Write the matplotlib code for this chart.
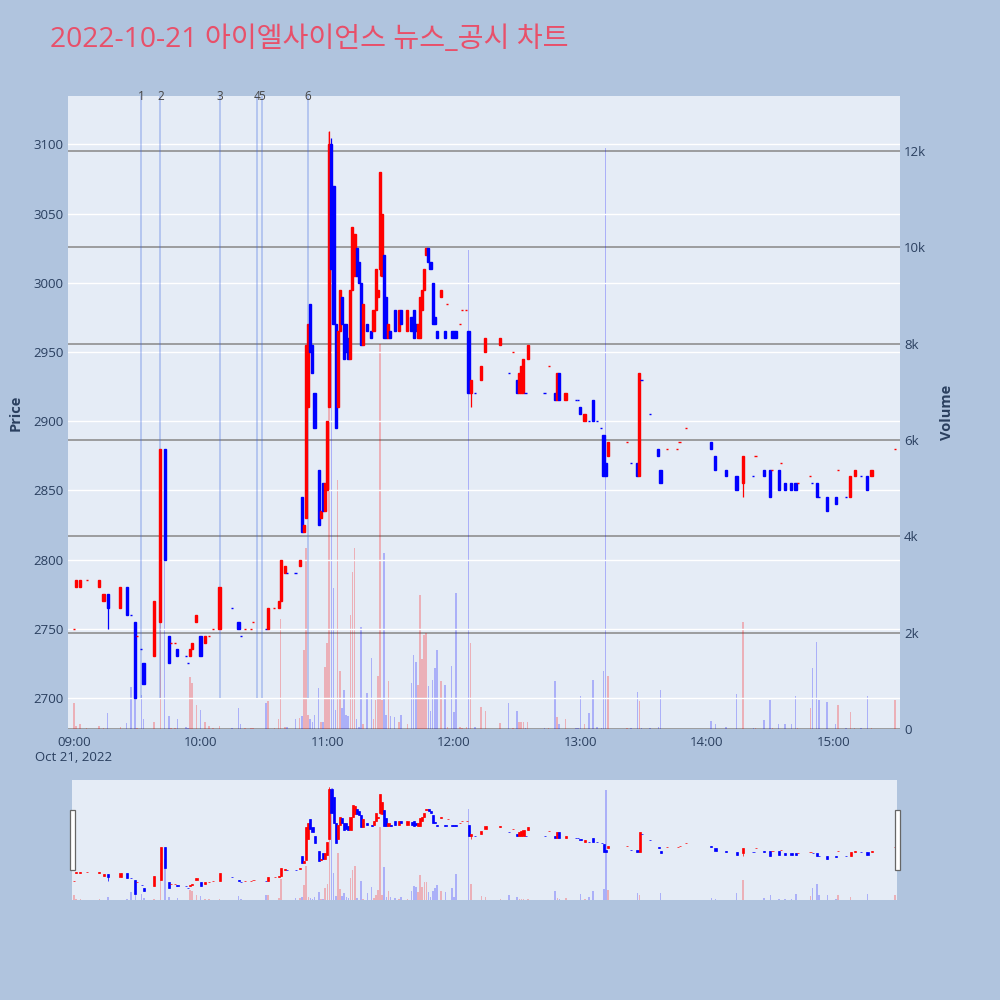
import matplotlib.pyplot as plt
from matplotlib.patches import Rectangle

plt.rcParams['font.family'] = ['Open Sans', 'Noto Sans CJK KR', 'DejaVu Sans']

# one-minute candles (only the minutes that traded)
times = ['09:00', '09:01', '09:03', '09:06', '09:12', '09:14', '09:16', '09:22', '09:25', '09:27',
         '09:29', '09:30', '09:32', '09:33', '09:38', '09:41', '09:43', '09:45', '09:46', '09:48',
         '09:49', '09:53', '09:54', '09:55', '09:56', '09:58', '10:00', '10:02', '10:04', '10:06',
         '10:09', '10:15', '10:18', '10:19', '10:21', '10:24', '10:25', '10:31', '10:32', '10:35',
         '10:37', '10:38', '10:40', '10:41', '10:45', '10:47', '10:48', '10:49', '10:50', '10:51',
         '10:52', '10:53', '10:54', '10:56', '10:57', '10:58', '10:59', '11:00', '11:01', '11:02',
         '11:03', '11:04', '11:05', '11:06', '11:07', '11:08', '11:09', '11:10', '11:11', '11:12',
         '11:13', '11:14', '11:15', '11:16', '11:17', '11:19', '11:21', '11:22', '11:23', '11:24',
         '11:25', '11:26', '11:27', '11:28', '11:29', '11:30', '11:32', '11:34', '11:35', '11:38',
         '11:40', '11:41', '11:42', '11:43', '11:44', '11:45', '11:46', '11:47', '11:48', '11:49',
         '11:50', '11:51', '11:52', '11:54', '11:56', '11:57', '11:59', '12:00', '12:01', '12:03',
         '12:04', '12:06', '12:07', '12:08', '12:10', '12:13', '12:15', '12:22', '12:26', '12:28',
         '12:30', '12:31', '12:32', '12:33', '12:34', '12:35', '12:43', '12:45', '12:48', '12:49',
         '12:50', '12:53', '12:58', '12:59', '13:00', '13:02', '13:04', '13:06', '13:08', '13:10',
         '13:11', '13:12', '13:13', '13:22', '13:24', '13:27', '13:28', '13:29', '13:33', '13:37',
         '13:38', '13:41', '13:46', '13:47', '13:50', '14:02', '14:04', '14:09', '14:14', '14:17',
         '14:22', '14:23', '14:27', '14:30', '14:31', '14:34', '14:35', '14:37', '14:40', '14:42',
         '14:43', '14:49', '14:50', '14:52', '14:53', '14:57', '15:01', '15:02', '15:06', '15:08',
         '15:10', '15:13', '15:16', '15:18', '15:29']
opens = [2750, 2780, 2780, 2785, 2780, 2770, 2775, 2765, 2780, 2760,
         2755, 2745, 2735, 2725, 2730, 2755, 2880, 2745, 2740, 2740,
         2735, 2730, 2725, 2730, 2735, 2755, 2745, 2740, 2745, 2750,
         2750, 2765, 2755, 2745, 2750, 2750, 2755, 2750, 2750, 2765,
         2765, 2770, 2790, 2790, 2790, 2795, 2845, 2820, 2830, 2910,
         2985, 2955, 2920, 2865, 2830, 2855, 2835, 2850, 2910, 3100,
         3070, 2970, 2910, 2965, 2990, 2970, 2970, 2960, 2945, 2995,
         3005, 3025, 3015, 3000, 2955, 2970, 2965, 2965, 2980, 2990,
         3010, 3005, 3020, 2990, 2960, 2965, 2980, 2965, 2980, 2965,
         2975, 2980, 2970, 2960, 2960, 2980, 2995, 3020, 3025, 3015,
         3000, 2975, 2965, 2990, 2965, 2985, 2965, 2965, 2965, 2970,
         2980, 2980, 2965, 2920, 2920, 2930, 2950, 2955, 2935, 2950,
         2930, 2920, 2920, 2920, 2920, 2945, 2920, 2940, 2920, 2915,
         2935, 2915, 2915, 2915, 2910, 2900, 2900, 2915, 2900, 2895,
         2890, 2870, 2875, 2885, 2870, 2870, 2860, 2930, 2905, 2880,
         2865, 2880, 2880, 2885, 2895, 2885, 2875, 2865, 2860, 2855,
         2860, 2875, 2865, 2865, 2865, 2865, 2870, 2855, 2855, 2855,
         2855, 2860, 2855, 2855, 2845, 2845, 2845, 2865, 2845, 2845,
         2860, 2860, 2860, 2860, 2880]
highs = [2750, 2785, 2785, 2785, 2785, 2775, 2775, 2780, 2780, 2760,
         2755, 2745, 2735, 2725, 2770, 2880, 2880, 2745, 2740, 2740,
         2735, 2730, 2725, 2735, 2740, 2760, 2745, 2745, 2745, 2750,
         2780, 2765, 2755, 2745, 2750, 2750, 2755, 2750, 2765, 2765,
         2770, 2800, 2795, 2790, 2790, 2800, 2845, 2825, 2955, 2970,
         2985, 2955, 2920, 2865, 2835, 2855, 2855, 2900, 3110, 3105,
         3070, 2970, 2965, 2995, 2990, 2970, 2970, 2960, 2995, 3040,
         3035, 3025, 3015, 3000, 2985, 2970, 2965, 2980, 3010, 2995,
         3080, 3050, 3020, 2990, 2970, 2965, 2980, 2980, 2980, 2980,
         2975, 2980, 2970, 2970, 2990, 2995, 3010, 3025, 3025, 3015,
         3000, 2975, 2965, 2995, 2965, 2985, 2965, 2965, 2965, 2970,
         2980, 2980, 2965, 2930, 2920, 2940, 2960, 2960, 2935, 2950,
         2930, 2935, 2940, 2945, 2920, 2955, 2920, 2940, 2920, 2935,
         2935, 2920, 2915, 2915, 2910, 2905, 2900, 2915, 2900, 2895,
         2890, 2870, 2885, 2885, 2870, 2870, 2935, 2930, 2905, 2880,
         2865, 2880, 2880, 2885, 2895, 2885, 2875, 2865, 2860, 2875,
         2860, 2875, 2865, 2865, 2865, 2865, 2870, 2855, 2855, 2855,
         2855, 2860, 2855, 2855, 2845, 2845, 2845, 2865, 2845, 2860,
         2865, 2860, 2860, 2865, 2880]
lows = [2750, 2780, 2780, 2785, 2780, 2770, 2750, 2765, 2760, 2760,
        2700, 2745, 2735, 2710, 2730, 2755, 2800, 2725, 2740, 2740,
        2730, 2730, 2725, 2730, 2735, 2755, 2730, 2740, 2745, 2750,
        2750, 2765, 2750, 2745, 2750, 2750, 2755, 2750, 2750, 2765,
        2765, 2770, 2790, 2790, 2790, 2795, 2820, 2820, 2830, 2910,
        2950, 2935, 2895, 2825, 2830, 2835, 2835, 2850, 2910, 3010,
        2970, 2895, 2910, 2965, 2970, 2945, 2950, 2945, 2945, 2995,
        3005, 3005, 3000, 2955, 2955, 2965, 2960, 2965, 2980, 2990,
        3005, 3005, 2960, 2960, 2960, 2960, 2965, 2965, 2970, 2965,
        2965, 2960, 2965, 2960, 2960, 2980, 2995, 3020, 3015, 3010,
        2970, 2970, 2960, 2990, 2960, 2985, 2960, 2960, 2960, 2970,
        2980, 2980, 2920, 2910, 2920, 2930, 2950, 2955, 2935, 2950,
        2920, 2920, 2920, 2920, 2920, 2945, 2920, 2940, 2915, 2915,
        2915, 2915, 2915, 2915, 2905, 2900, 2900, 2900, 2900, 2895,
        2860, 2860, 2875, 2885, 2870, 2860, 2860, 2930, 2905, 2875,
        2855, 2880, 2880, 2885, 2895, 2880, 2865, 2860, 2850, 2845,
        2860, 2875, 2860, 2845, 2865, 2850, 2870, 2850, 2850, 2850,
        2855, 2860, 2855, 2845, 2845, 2835, 2840, 2865, 2845, 2845,
        2860, 2860, 2850, 2860, 2880]
closes = [2750, 2785, 2785, 2785, 2785, 2775, 2765, 2780, 2760, 2760,
          2700, 2745, 2735, 2710, 2770, 2880, 2800, 2725, 2740, 2740,
          2730, 2730, 2725, 2735, 2740, 2760, 2730, 2745, 2745, 2750,
          2780, 2765, 2750, 2745, 2750, 2750, 2755, 2750, 2765, 2765,
          2770, 2800, 2795, 2790, 2790, 2800, 2820, 2825, 2955, 2970,
          2950, 2935, 2895, 2825, 2835, 2835, 2855, 2900, 3100, 3010,
          2970, 2895, 2965, 2995, 2970, 2945, 2950, 2945, 2995, 3040,
          3035, 3005, 3000, 2955, 2985, 2965, 2960, 2980, 3010, 2995,
          3080, 3050, 2960, 2960, 2970, 2960, 2965, 2980, 2970, 2980,
          2965, 2960, 2965, 2970, 2990, 2995, 3010, 3025, 3015, 3010,
          2970, 2970, 2960, 2995, 2960, 2985, 2960, 2960, 2960, 2970,
          2980, 2980, 2920, 2930, 2920, 2940, 2960, 2960, 2935, 2950,
          2920, 2935, 2940, 2945, 2920, 2955, 2920, 2940, 2915, 2935,
          2915, 2920, 2915, 2915, 2905, 2905, 2900, 2900, 2900, 2895,
          2860, 2860, 2885, 2885, 2870, 2860, 2935, 2930, 2905, 2875,
          2855, 2880, 2880, 2885, 2895, 2880, 2865, 2860, 2850, 2875,
          2860, 2875, 2860, 2845, 2865, 2850, 2870, 2850, 2850, 2850,
          2855, 2860, 2855, 2845, 2845, 2835, 2840, 2865, 2845, 2860,
          2865, 2860, 2850, 2865, 2880]
volumes = [530, 60, 100, 20, 60, 30, 325, 40, 130, 866,
           982, 20, 700, 200, 152, 4000, 4500, 280, 20, 20,
           200, 40, 30, 1070, 950, 500, 395, 150, 60, 30,
           60, 20, 430, 100, 20, 20, 20, 550, 590, 30,
           200, 2280, 40, 40, 200, 220, 280, 1640, 3750, 300,
           200, 150, 300, 845, 150, 150, 1294, 1780, 12400, 12240,
           2920, 400, 5170, 1210, 430, 810, 300, 270, 2370, 3265,
           3750, 200, 50, 2125, 100, 740, 1467, 200, 600, 1110,
           8000, 600, 3650, 300, 1000, 280, 250, 150, 300, 100,
           950, 1537, 1400, 920, 2780, 1447, 1950, 1987, 900, 380,
           1017, 1260, 1640, 1000, 913, 50, 1315, 360, 2830, 50,
           30, 50, 9950, 1790, 50, 450, 380, 120, 530, 30,
           380, 150, 150, 150, 20, 150, 20, 20, 1000, 250,
           100, 210, 20, 20, 680, 100, 330, 1010, 50, 30,
           1210, 12060, 1090, 20, 20, 775, 590, 20, 20, 50,
           810, 10, 10, 10, 10, 170, 100, 40, 727, 2230,
           20, 20, 190, 600, 20, 100, 10, 100, 100, 690,
           20, 430, 1260, 1800, 600, 555, 100, 500, 20, 345,
           20, 20, 690, 20, 600]

news_times = ['09:32', '09:41', '10:09', '10:27', '10:29', '10:51']
news_labels = ['1', '2', '3', '4', '5', '6']

hour_ticks = ['09:00', '10:00', '11:00', '12:00', '13:00', '14:00', '15:00']
price_ticks = [2700, 2750, 2800, 2850, 2900, 2950, 3000, 3050, 3100]
vol_ticks = [0, 2000, 4000, 6000, 8000, 10000, 12000]
vol_labels = ['0', '2k', '4k', '6k', '8k', '10k', '12k']


def to_min(t):
    h, m = t.split(':')
    return (int(h) - 9) * 60 + int(m)


x = [to_min(t) for t in times]

# red = up, blue = down; flat minutes follow the move from the last close
cols = []
prev_close, prev_col = None, 'red'
for o, c in zip(opens, closes):
    if c > o:
        col = 'red'
    elif c < o:
        col = 'blue'
    elif prev_close is None or c > prev_close:
        col = 'red'
    elif c < prev_close:
        col = 'blue'
    else:
        col = prev_col
    cols.append(col)
    prev_close, prev_col = c, col

vcols = [(1, 0, 0, 0.25) if c == 'red' else (0, 0, 1, 0.25) for c in cols]

PLOT_BG = '#E5ECF6'
TXT = '#2a3f5f'
P_LIM = (2677.5, 3135)
V_LIM = (0, 13140)

fig = plt.figure(figsize=(10, 10), dpi=100, facecolor='#B0C4DE')


def panel(rect, xlim, body_lw, wick_lw, main=True):
    ax = fig.add_axes(rect)
    axv = ax.twinx()
    ax.set_zorder(axv.get_zorder() + 1)
    ax.patch.set_visible(False)
    axv.patch.set_visible(True)
    axv.set_facecolor(PLOT_BG)

    axv.bar(x, volumes, width=0.75, color=vcols, linewidth=0)
    axv.set_ylim(*V_LIM)

    ax.vlines(x, lows, highs, colors=cols, linewidth=wick_lw, zorder=3)
    bottoms = [min(o, c) for o, c in zip(opens, closes)]
    heights = [abs(c - o) for o, c in zip(opens, closes)]
    ax.bar(x, heights, bottom=bottoms, width=1.0, color=cols, edgecolor=cols,
           linewidth=body_lw, zorder=4)
    ax.set_ylim(*P_LIM)
    ax.set_xlim(*xlim)

    for a in (ax, axv):
        for s in a.spines.values():
            s.set_visible(False)
        a.tick_params(length=0, colors=TXT, labelsize=9.5)
    if not main:
        ax.set_xticks([])
        ax.set_yticks([])
        axv.set_yticks([])
    return ax, axv


# main chart
ax, axv = panel([0.068, 0.271, 0.832, 0.633], (-2.8, 391.5), 1.0, 0.9)
ax.set_yticks(price_ticks)
ax.grid(axis='y', color='white', linewidth=1.0)
ax.set_axisbelow(True)
ax.set_xticks([to_min(t) for t in hour_ticks])
ax.set_xticklabels(hour_ticks)
ax.tick_params(axis='x', pad=5)
ax.tick_params(axis='y', pad=3)
axv.set_yticks(vol_ticks)
axv.set_yticklabels(vol_labels)
axv.grid(axis='y', color='#8f8f8f', linewidth=1.2)
axv.set_axisbelow(True)
axv.tick_params(axis='y', pad=3)
ax.text(0, -0.035, 'Oct 21, 2022', transform=ax.get_xaxis_transform(),
        ha='center', va='top', fontsize=9.5, color=TXT)
ax.set_ylabel('Price', fontsize=10.5, fontweight='bold', color=TXT, labelpad=8)
axv.set_ylabel('Volume', fontsize=10.5, fontweight='bold', color=TXT, labelpad=10)

# news / disclosure markers
news_x = [to_min(t) for t in news_times]
ax.vlines(news_x, 2700, P_LIM[1], colors='royalblue', alpha=0.35, linewidth=1.2, zorder=2)
for nx, lab in zip(news_x, news_labels):
    ax.text(nx, P_LIM[1], lab, ha='center', va='center', fontsize=8.5, color='#444444', zorder=6)

# range slider
rs, rsv = panel([0.072, 0.100, 0.825, 0.120], (-1, 390), 0.5, 0.5, main=False)
for hx in (0.0695, 0.8945):
    fig.patches.append(Rectangle((hx, 0.130), 0.005, 0.060, transform=fig.transFigure,
                                 facecolor='white', edgecolor='#666666', linewidth=0.9))

fig.text(0.05, 0.96, '2022-10-21 아이엘사이언스 뉴스_공시 차트', fontsize=20.3,
         color='#E8506A', ha='left', va='center')

fig.savefig('out.png', dpi=100, facecolor=fig.get_facecolor())
